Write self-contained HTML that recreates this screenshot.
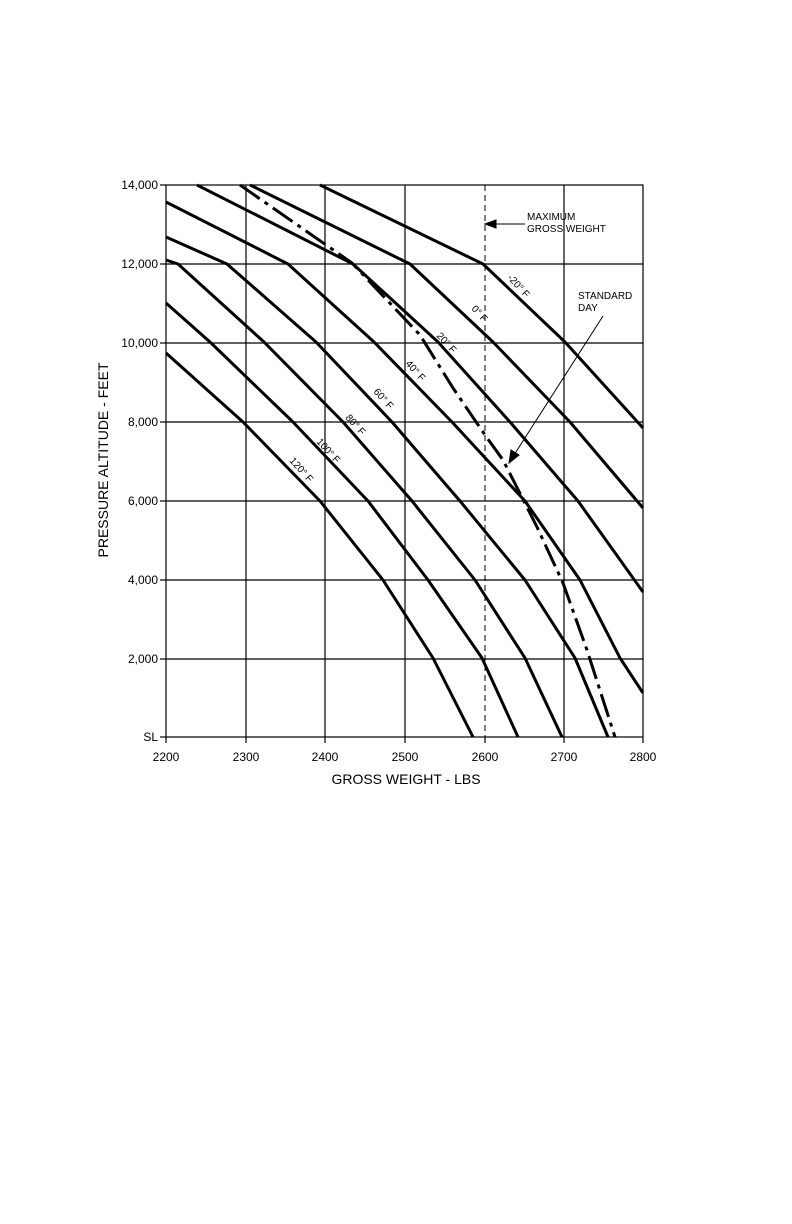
<!DOCTYPE html>
<html><head><style>body{margin:0;background:#fff}svg{display:block}</style></head>
<body>
<svg width="792" height="1224" viewBox="0 0 792 1224" xmlns="http://www.w3.org/2000/svg" font-family="Liberation Sans, Arial, sans-serif">
<g stroke="#000" stroke-width="1.2" fill="none">
<rect x="166" y="185" width="477" height="552"/>
<line x1="246" y1="185" x2="246" y2="737"/><line x1="325" y1="185" x2="325" y2="737"/>
<line x1="405" y1="185" x2="405" y2="737"/><line x1="564" y1="185" x2="564" y2="737"/>
<line x1="166" y1="264" x2="643" y2="264"/><line x1="166" y1="343" x2="643" y2="343"/>
<line x1="166" y1="422" x2="643" y2="422"/><line x1="166" y1="501" x2="643" y2="501"/>
<line x1="166" y1="580" x2="643" y2="580"/><line x1="166" y1="659" x2="643" y2="659"/>
<line x1="485" y1="185" x2="485" y2="737" stroke-dasharray="6,4" stroke-width="1"/>
<line x1="160" y1="185" x2="166" y2="185"/><line x1="160" y1="264" x2="166" y2="264"/><line x1="160" y1="343" x2="166" y2="343"/><line x1="160" y1="422" x2="166" y2="422"/><line x1="160" y1="501" x2="166" y2="501"/><line x1="160" y1="580" x2="166" y2="580"/><line x1="160" y1="659" x2="166" y2="659"/><line x1="160" y1="737" x2="166" y2="737"/>
<line x1="166" y1="737" x2="166" y2="743"/><line x1="246" y1="737" x2="246" y2="743"/><line x1="325" y1="737" x2="325" y2="743"/><line x1="405" y1="737" x2="405" y2="743"/><line x1="485" y1="737" x2="485" y2="743"/><line x1="564" y1="737" x2="564" y2="743"/><line x1="643" y1="737" x2="643" y2="743"/>
</g>
<g stroke="#000" stroke-width="3" fill="none" stroke-linejoin="round">
<polyline points="320,185 483,264 565,342 643,428"/>
<polyline points="250,185 410,264 493,342 570,422 643,508"/>
<polyline points="197,185 353,264 438,342 510,422 578,501 643,592"/>
<polyline points="166,202 288,264 374,342 452,422 525,501 580,580 620,658 643,693"/>
<polyline points="166,237 227,264 316,342 392,422 460,501 525,580 575,658 608,737"/>
<polyline points="166,260 178,264 264,342 343,422 412,501 475,580 525,658 562,737"/>
<polyline points="166,303 210,342 293,422 368,501 428,580 482,658 518,737"/>
<polyline points="166,353 243,422 320,501 383,580 433,658 473,737"/>
<polyline points="240,185 352,263 420,335 453,388 485,435 503,460 537,527 563,583 587,650 615,737" stroke-dasharray="24,6,4,6"/>
</g>
<g stroke="#000" stroke-width="1" fill="#000">
<line x1="525" y1="224" x2="492" y2="224"/><polygon points="485,224 496,220 496,228"/>
<line x1="603" y1="316" x2="514" y2="455"/><polygon points="509,463 511,450 519,455"/>
</g>
<g font-size="10" fill="#000">
<text x="527" y="220">MAXIMUM</text><text x="527" y="232">GROSS WEIGHT</text>
<text x="578" y="299">STANDARD</text><text x="578" y="311">DAY</text>
<g font-size="10">
<text transform="translate(507,278) rotate(48)">-20° F</text>
<text transform="translate(471,309) rotate(48)">0° F</text>
<text transform="translate(436,336) rotate(48)">20° F</text>
<text transform="translate(405,364) rotate(48)">40° F</text>
<text transform="translate(373,392) rotate(48)">60° F</text>
<text transform="translate(345,418) rotate(48)">80° F</text>
<text transform="translate(316,442) rotate(48)">100° F</text>
<text transform="translate(289,461) rotate(48)">120° F</text>
</g>
</g>
<g font-size="12" fill="#000" text-anchor="end">
<text x="158" y="189">14,000</text><text x="158" y="268">12,000</text><text x="158" y="347">10,000</text>
<text x="158" y="426">8,000</text><text x="158" y="505">6,000</text><text x="158" y="584">4,000</text>
<text x="158" y="663">2,000</text><text x="158" y="741">SL</text>
</g>
<g font-size="12" fill="#000" text-anchor="middle">
<text x="166" y="761">2200</text><text x="246" y="761">2300</text><text x="325" y="761">2400</text>
<text x="405" y="761">2500</text><text x="485" y="761">2600</text><text x="564" y="761">2700</text><text x="643" y="761">2800</text>
<text x="406" y="784" font-size="14">GROSS WEIGHT - LBS</text>
<text transform="translate(108,460) rotate(-90)" font-size="14">PRESSURE ALTITUDE - FEET</text>
</g>
</svg>
</body></html>
